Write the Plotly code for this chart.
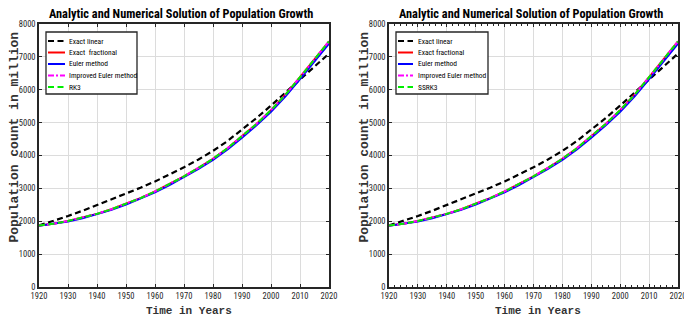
import plotly.graph_objects as go

# page body has an 8px margin; figure is sized to fit inside the 692x319 window
OFF = 8
W, H = 692 - OFF, 319 - OFF

years = [1920, 1925, 1930, 1935, 1940, 1945, 1950, 1955, 1960, 1965, 1970,
         1975, 1980, 1985, 1990, 1995, 2000, 2005, 2010, 2015, 2020]
exact_linear = [1870, 2010, 2160, 2320, 2490, 2660, 2840, 3020, 3210, 3420, 3640,
                3880, 4140, 4440, 4780, 5140, 5520, 5920, 6330, 6720, 7100]
exact_fractional = [1870, 1925, 2005, 2105, 2225, 2365, 2525, 2705, 2905, 3125, 3365,
                    3625, 3900, 4220, 4580, 4960, 5380, 5850, 6380, 6920, 7470]
euler = [1860, 1915, 1992, 2090, 2208, 2346, 2504, 2682, 2880, 3098, 3336,
         3594, 3868, 4185, 4540, 4918, 5332, 5797, 6320, 6850, 7400]
improved_euler = [1870, 1926, 2006, 2106, 2226, 2366, 2526, 2706, 2906, 3126, 3366,
                  3626, 3901, 4221, 4581, 4961, 5381, 5851, 6381, 6921, 7472]
rk3 = [1870, 1925, 2005, 2105, 2225, 2365, 2525, 2705, 2905, 3125, 3365,
       3625, 3900, 4220, 4580, 4960, 5380, 5850, 6380, 6920, 7470]
ssrk3 = [1870, 1925, 2005, 2105, 2225, 2365, 2525, 2705, 2905, 3125, 3365,
         3625, 3900, 4220, 4580, 4960, 5380, 5850, 6380, 6920, 7470]

x_ticks = [1920, 1930, 1940, 1950, 1960, 1970, 1980, 1990, 2000, 2010, 2020]
y_ticks = [0, 1000, 2000, 3000, 4000, 5000, 6000, 7000, 8000]

title_text = "Analytic and Numerical Solution of Population Growth"
x_title = "Time in Years"
y_title = "Population count in million"
names_left = ["Exact linear", "Exact  fractional", "Euler method", "Improved Euler method", "RK3"]
names_right = ["Exact linear", "Exact fractional", "Euler method", "Improved Euler method", "SSRK3"]

styles = [
    dict(color="black", width=2.2, dash="6px,3.5px"),
    dict(color="#ff0000", width=2, dash="solid"),
    dict(color="#0000ff", width=2, dash="solid"),
    dict(color="#ff00ff", width=2, dash="6px,2px,2px,2px"),
    dict(color="#00ee00", width=2, dash="6px,3.5px"),
]

SANS = "Liberation Sans Narrow, Arial Narrow, Roboto Condensed, DejaVu Sans Condensed, Liberation Sans, sans-serif"

def px(x):
    return (x - OFF) / W

def py(y):
    return 1 - (y - OFF) / H

fig = go.Figure()

series_left = [exact_linear, exact_fractional, euler, improved_euler, rk3]
series_right = [exact_linear, exact_fractional, euler, improved_euler, ssrk3]

for xa, ya, series, names in [("x", "y", series_left, names_left), ("x2", "y2", series_right, names_right)]:
    for s, st, nm in zip(series, styles, names):
        fig.add_trace(go.Scatter(x=years, y=s, mode="lines", name=nm, line=st,
                                 xaxis=xa, yaxis=ya, showlegend=False))

axis_color = "#262626"
tick_font = dict(family=SANS, size=8.5, color=axis_color)
common_x = dict(range=[1920, 2020], tickvals=x_ticks, ticks="inside", ticklen=3,
                tickcolor=axis_color, showline=True, linecolor=axis_color, linewidth=1.5,
                mirror="ticks", showgrid=True, gridcolor="#dcdcdc", gridwidth=1,
                zeroline=False, tickfont=tick_font, fixedrange=True, automargin=False)
common_y = dict(range=[0, 8000], tickvals=y_ticks, ticks="inside", ticklen=3,
                tickcolor=axis_color, showline=True, linecolor=axis_color, linewidth=1.5,
                mirror="ticks", showgrid=True, gridcolor="#dcdcdc", gridwidth=1,
                zeroline=False, tickfont=tick_font, fixedrange=True, automargin=False)

ydom = [py(287), py(24)]
fig.update_layout(
    width=W, height=H,
    margin=dict(l=0, r=0, t=0, b=0, autoexpand=False),
    paper_bgcolor="white", plot_bgcolor="white",
    xaxis=dict(common_x, domain=[px(39), px(329)], anchor="y"),
    yaxis=dict(common_y, domain=ydom, anchor="x"),
    xaxis2=dict(common_x, domain=[px(389), px(678)], anchor="y2",
                minor=dict(ticks="inside", ticklen=2, dtick=2, tickcolor=axis_color, showgrid=False)),
    yaxis2=dict(common_y, domain=ydom, anchor="x2"),
)

annotations = []
shapes = []
title_font = dict(family=SANS, size=12.3, color="black")
label_font = dict(family="Liberation Mono", size=11, color="#333333")
ylabel_font = dict(family="Liberation Mono", size=13, color="#333333")

for ttl_x, xl_x, yl_x in [(181, 189, 13.5), (531, 538, 363.5)]:
    annotations.append(dict(text="<b>" + title_text + "</b>", xref="paper", yref="paper",
                            x=px(ttl_x), y=py(14), xanchor="center", yanchor="middle",
                            showarrow=False, font=title_font))
    annotations.append(dict(text="<b>" + x_title + "</b>", xref="paper", yref="paper",
                            x=px(xl_x), y=py(311), xanchor="center", yanchor="middle",
                            showarrow=False, font=label_font))
    annotations.append(dict(text="<b>" + y_title + "</b>", xref="paper", yref="paper",
                            x=px(yl_x), y=py(137), xanchor="center", yanchor="middle",
                            showarrow=False, font=ylabel_font, textangle=-90))

legend_font = dict(family=SANS, size=7.5, color="black")
item_y = [41, 52.5, 64, 75.5, 87]
for (bx0, bx1, lx0, lx1, tx), names in [((46, 137, 48, 65, 67), names_left),
                                         ((396, 488, 398, 413, 416), names_right)]:
    shapes.append(dict(type="rect", xref="paper", yref="paper",
                       x0=px(bx0), x1=px(bx1), y0=py(94), y1=py(32),
                       line=dict(color="#262626", width=1.3), fillcolor="white", layer="above"))
    for iy, st, nm in zip(item_y, styles, names):
        shapes.append(dict(type="line", xref="paper", yref="paper",
                           x0=px(lx0), x1=px(lx1), y0=py(iy), y1=py(iy),
                           line=st, layer="above"))
        annotations.append(dict(text=nm, xref="paper", yref="paper",
                                x=px(tx), y=py(iy), xanchor="left", yanchor="middle",
                                showarrow=False, font=legend_font))

fig.update_layout(annotations=annotations, shapes=shapes)

fig.write_html("out.html")
